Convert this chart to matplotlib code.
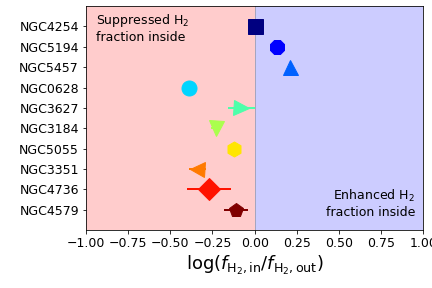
import numpy as np
import matplotlib
matplotlib.use('Agg')
import matplotlib.pyplot as plt

galaxies = ['NGC4254', 'NGC5194', 'NGC5457', 'NGC0628', 'NGC3627',
            'NGC3184', 'NGC5055', 'NGC3351', 'NGC4736', 'NGC4579']
ratio = [0.0, 0.13, 0.21, -0.39, -0.08, -0.23, -0.12, -0.34, -0.27, -0.11]
ratio_err = [0.0, 0.0, 0.0, 0.0, 0.08, 0.03, 0.0, 0.05, 0.13, 0.07]
markers = ['s', '8', '^', 'o', '>', 'v', 'h', '<', 'D', 'p']

fig = plt.figure(figsize=(6, 4), dpi=72)
ax = fig.add_axes([0.199, 0.201, 0.781, 0.778])

ax.axvspan(-1, 0, color='red', alpha=0.2, lw=0)
ax.axvspan(0, 1, color='blue', alpha=0.2, lw=0)
ax.axvline(0, color='gray', lw=1, alpha=0.5)

n = len(galaxies)
cols = plt.cm.jet(np.linspace(0, 1, n))
for i in range(n):
    y = n - 1 - i
    ax.errorbar(ratio[i], y, xerr=ratio_err[i], marker=markers[i], ms=15,
                color=cols[i], ls='none', elinewidth=2, capsize=0)

ax.set_yticks(np.arange(n)[::-1])
ax.set_yticklabels(galaxies)
ax.set_xlim(-1, 1)
ax.set_ylim(-1, n)
ax.set_xticks(np.arange(-1, 1.01, 0.25))
ax.tick_params(labelsize=12.5)

ax.text(-0.94, 8.92, 'Suppressed H$_2$\nfraction inside', fontsize=12.5,
        va='center', ha='left')
ax.text(0.95, 0.3, 'Enhanced H$_2$\nfraction inside', fontsize=12.5,
        va='center', ha='right')
ax.set_xlabel(r'$\log(f_{\rm H_2,in}/f_{\rm H_2,out})$', fontsize=18)

fig.savefig('out.png', dpi=72)
